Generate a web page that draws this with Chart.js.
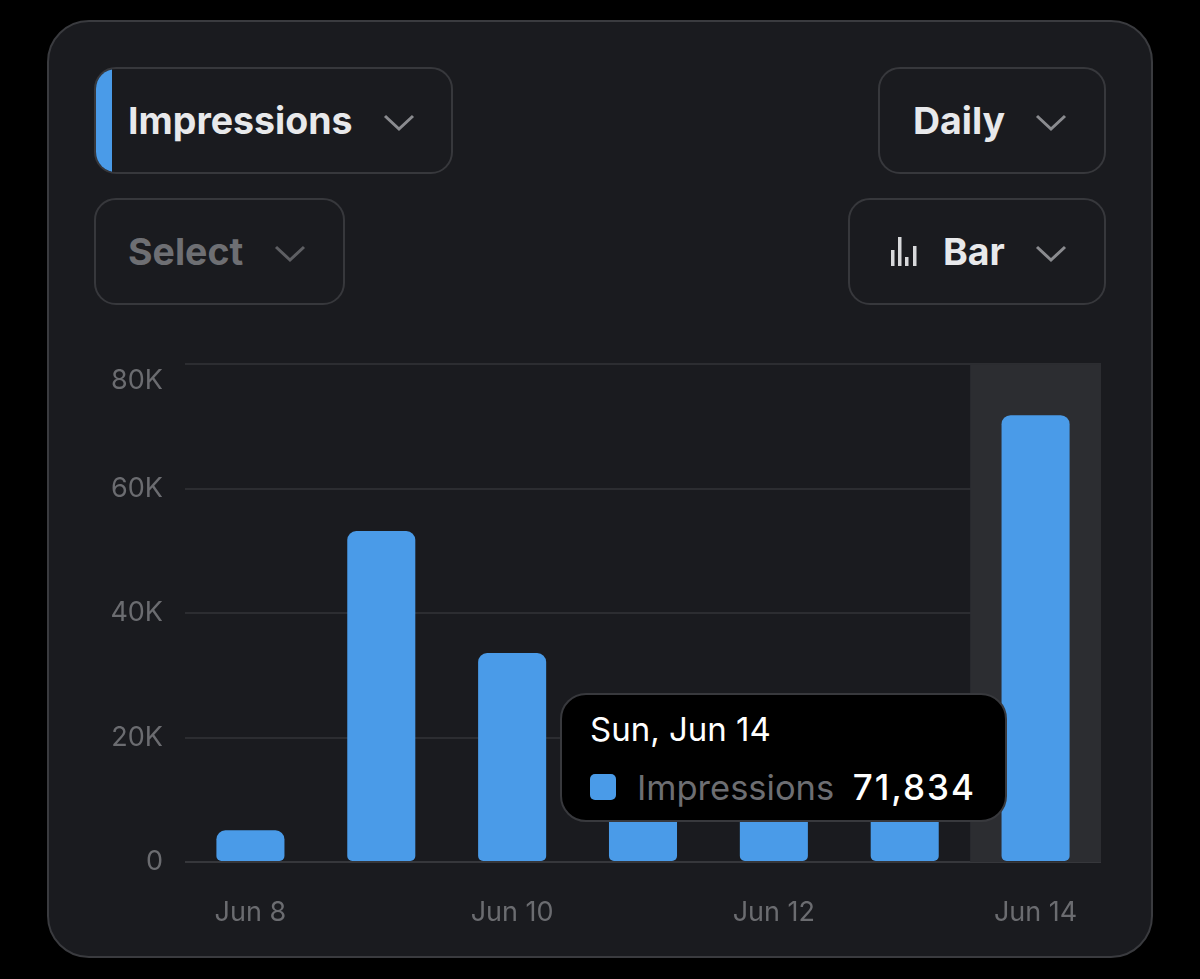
<!DOCTYPE html>
<html>
<head>
<meta charset="utf-8">
<script src="https://cdn.jsdelivr.net/npm/chart.js@4.4.1/dist/chart.umd.min.js"></script>
<style>
  html, body { margin: 0; padding: 0; background: #000; }
  body { width: 1200px; height: 979px; position: relative; overflow: hidden; font-family: Inter, "Noto Sans", sans-serif; }
  .card { position: absolute; left: 47px; top: 20px; width: 1106px; height: 938px; box-sizing: border-box;
    background: #1a1b1f; border: 2px solid #3a3b3f; border-radius: 42px; }
  .btn { position: absolute; box-sizing: border-box; border: 2px solid #37383c; border-radius: 22px;
    overflow: hidden; color: #e8e9eb; font-weight: 700; font-size: 37.5px; }
  .btn span { position: absolute; top: 50%; transform: translateY(-52%); white-space: nowrap; }
  .btn svg { position: absolute; }
  .stripe { position: absolute; left: 0; top: 0; bottom: 0; width: 16px; background: #4a9be8; }
  #chartBox { position: absolute; left: 90px; top: 310px; width: 1030px; height: 640px; }
  #tip { position: absolute; left: 560px; top: 693px; width: 447px; height: 129px; box-sizing: border-box;
    background: #000; border: 2px solid #38393d; border-radius: 26px; color: #fff; }
  #tip .title { position: absolute; left: 28px; top: 14px; font-size: 33px; }
  #tip .row { position: absolute; left: 28px; right: 29px; top: 72px; height: 40px; display: flex; align-items: center; font-size: 34.5px; }
  #tip .sw { width: 26px; height: 26px; border-radius: 5px; }
  #tip .lbl { margin-left: 21px; color: #6d6e72; }
  #tip .val { margin-left: auto; font-weight: 500; letter-spacing: 2px; font-size: 35px; }
</style>
</head>
<body>
<div class="card"></div>

<div class="btn" style="left:94px; top:67px; width:359px; height:107px;">
  <div class="stripe"></div>
  <span style="left:32px;">Impressions</span>
  <svg style="left:287px; top:45px;" width="32" height="18" viewBox="0 0 32 18"><polyline points="2,2 16,15 30,2" fill="none" stroke="#8a8b8f" stroke-width="3"/></svg>
</div>

<div class="btn" style="left:878px; top:67px; width:228px; height:107px;">
  <span style="left:33px;">Daily</span>
  <svg style="left:155px; top:45px;" width="32" height="18" viewBox="0 0 32 18"><polyline points="2,2 16,15 30,2" fill="none" stroke="#8a8b8f" stroke-width="3"/></svg>
</div>

<div class="btn" style="left:94px; top:198px; width:251px; height:107px; color:#6e6f73;">
  <span style="left:32px;">Select</span>
  <svg style="left:178px; top:45px;" width="32" height="18" viewBox="0 0 32 18"><polyline points="2,2 16,15 30,2" fill="none" stroke="#5e5f63" stroke-width="3"/></svg>
</div>

<div class="btn" style="left:848px; top:198px; width:258px; height:107px;">
  <svg style="left:40px; top:36px;" width="30" height="32" viewBox="0 0 30 32">
    <rect x="1" y="14" width="3.5" height="16" fill="#d8d9db"/>
    <rect x="8" y="1" width="3.5" height="29" fill="#d8d9db"/>
    <rect x="15" y="21" width="3.5" height="9" fill="#d8d9db"/>
    <rect x="23" y="10" width="3.5" height="20" fill="#d8d9db"/>
  </svg>
  <span style="left:93px;">Bar</span>
  <svg style="left:185px; top:45px;" width="32" height="18" viewBox="0 0 32 18"><polyline points="2,2 16,15 30,2" fill="none" stroke="#8a8b8f" stroke-width="3"/></svg>
</div>

<div id="chartBox"><canvas id="impressionsChart"></canvas></div>

<div id="tip">
  <div class="title"></div>
  <div class="row"><div class="sw"></div><div class="lbl"></div><div class="val"></div></div>
</div>

<script>
// Data
const days = ['Jun 8', 'Jun 9', 'Jun 10', 'Jun 11', 'Jun 12', 'Jun 13', 'Jun 14'];
const weekdays = ['Mon', 'Tue', 'Wed', 'Thu', 'Fri', 'Sat', 'Sun'];
const impressions = [5100, 53200, 33600, 12000, 9000, 11000, 71834];
const yTicks = [0, 20000, 40000, 60000, 80000];
const activeDay = 6;

const barColor = '#4a9be8';
const tickColor = '#6b6c70';

// Shaded column behind the hovered bar
const highlightColumn = {
  id: 'highlightColumn',
  beforeDatasetsDraw(chart) {
    const active = chart.tooltip.getActiveElements();
    if (!active.length) return;
    const { ctx, chartArea, scales } = chart;
    const step = scales.x.width / days.length;
    const x = scales.x.getPixelForValue(active[0].index);
    ctx.save();
    ctx.fillStyle = '#2c2d31';
    ctx.fillRect(x - step / 2, chartArea.top, step, chartArea.bottom - chartArea.top);
    ctx.restore();
  }
};

// Tooltip drawn as html so label and value can have their own colours
function drawTooltip(context) {
  const tooltip = context.tooltip;
  const tip = document.getElementById('tip');
  if (tooltip.opacity === 0 || !tooltip.dataPoints) {
    tip.style.display = 'none';
    return;
  }
  const point = tooltip.dataPoints[0];
  tip.style.display = 'block';
  tip.querySelector('.title').textContent = weekdays[point.dataIndex] + ', ' + days[point.dataIndex];
  tip.querySelector('.sw').style.background = point.dataset.backgroundColor;
  tip.querySelector('.lbl').textContent = point.dataset.label;
  tip.querySelector('.val').textContent = point.raw.toLocaleString('en-US');
}

const impressionsChart = new Chart(document.getElementById('impressionsChart'), {
  type: 'bar',
  data: {
    labels: days,
    datasets: [{
      label: 'Impressions',
      data: impressions,
      backgroundColor: barColor,
      hoverBackgroundColor: barColor,
      borderSkipped: false,
      borderRadius: { topLeft: 9, topRight: 9, bottomLeft: 5, bottomRight: 5 },
      categoryPercentage: 1,
      barPercentage: 0.52
    }]
  },
  options: {
    responsive: true,
    maintainAspectRatio: false,
    animation: false,
    events: [],
    layout: { padding: { top: 23, right: 19, left: 0, bottom: 0 } },
    plugins: {
      legend: { display: false },
      tooltip: { enabled: false, mode: 'index', intersect: false, external: drawTooltip }
    },
    scales: {
      x: {
        grid: { display: false },
        border: { display: false },
        ticks: {
          autoSkip: false,
          maxRotation: 0,
          color: tickColor,
          font: { family: 'Inter', size: 27 },
          padding: 27,
          callback: (value, index) => index % 2 === 0 ? days[index] : ''
        },
        afterFit: (scale) => { scale.height = 88; }
      },
      y: {
        min: 0,
        max: 80000,
        afterBuildTicks: (scale) => { scale.ticks = yTicks.map(v => ({ value: v })); },
        grid: {
          drawTicks: false,
          lineWidth: 2,
          color: (ctx) => ctx.tick && ctx.tick.value === 0 ? '#36373b' : '#2c2d31'
        },
        border: { display: false },
        ticks: {
          color: tickColor,
          font: { family: 'Inter', size: 27 },
          padding: 22,
          // top label sits a little under its line
          callback: (value) => {
            const text = value === 0 ? '0' : (value / 1000) + 'K';
            return value === 80000 ? ['', text] : text;
          }
        },
        afterFit: (scale) => { scale.width = 95; }
      }
    }
  },
  plugins: [highlightColumn]
});

// Show the tooltip for the last day, as in the screenshot
const activeBar = impressionsChart.getDatasetMeta(0).data[activeDay];
impressionsChart.tooltip.setActiveElements([{ datasetIndex: 0, index: activeDay }], { x: activeBar.x, y: activeBar.y });
impressionsChart.update();
</script>
</body>
</html>
